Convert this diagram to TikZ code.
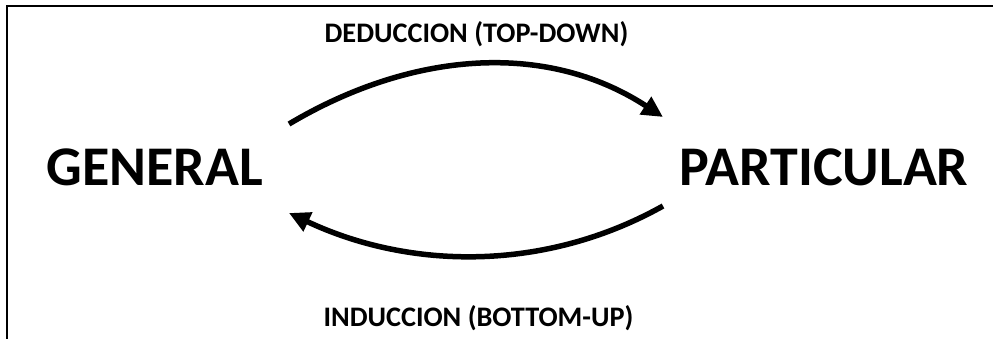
\documentclass[tikz,border=0pt]{standalone}
\usepackage{fontspec}
\setmainfont{Carlito}
\usetikzlibrary{arrows.meta}
\begin{document}
\begin{tikzpicture}[x=1pt,y=-1pt,
  bigword/.style={font=\bfseries\fontsize{56}{60}\selectfont, inner sep=0pt, anchor=center},
  caption/.style={font=\bfseries\fontsize{28.3}{32}\selectfont, inner sep=0pt, anchor=center},
  flow/.style={line width=5.5pt, -{Triangle[length=21pt,width=20pt]}},
  frameline/.style={line width=2pt}]
  \useasboundingbox (0,0) rectangle (993,338);
  % partial frame: top and left edges
  \coordinate (fbl) at (7,340);
  \coordinate (ftl) at (7,5.5);
  \coordinate (ftr) at (995,5.5);
  \draw[frameline] (fbl) -- (ftl) -- (ftr);
  % terms
  \node[bigword] (general) at (154.5,167) {GENERAL};
  \node[bigword] (particular) at (824,167) {PARTICULAR};
  % captions
  \node[caption] (deduccion) at (476.5,34.5) {DEDUCCION (TOP-DOWN)};
  \node[caption] (induccion) at (478.5,318.5) {INDUCCION (BOTTOM-UP)};
  % arrow end points
  \coordinate (dstart) at (289,124);
  \coordinate (dend) at (663,117);
  \coordinate (istart) at (663,206);
  \coordinate (iend) at (289,213);
  \draw[flow] (dstart) .. controls (410,52) and (545,40) .. (dend);
  \draw[flow] (istart) .. controls (545,272) and (410,270) .. (iend);
\end{tikzpicture}
\end{document}
